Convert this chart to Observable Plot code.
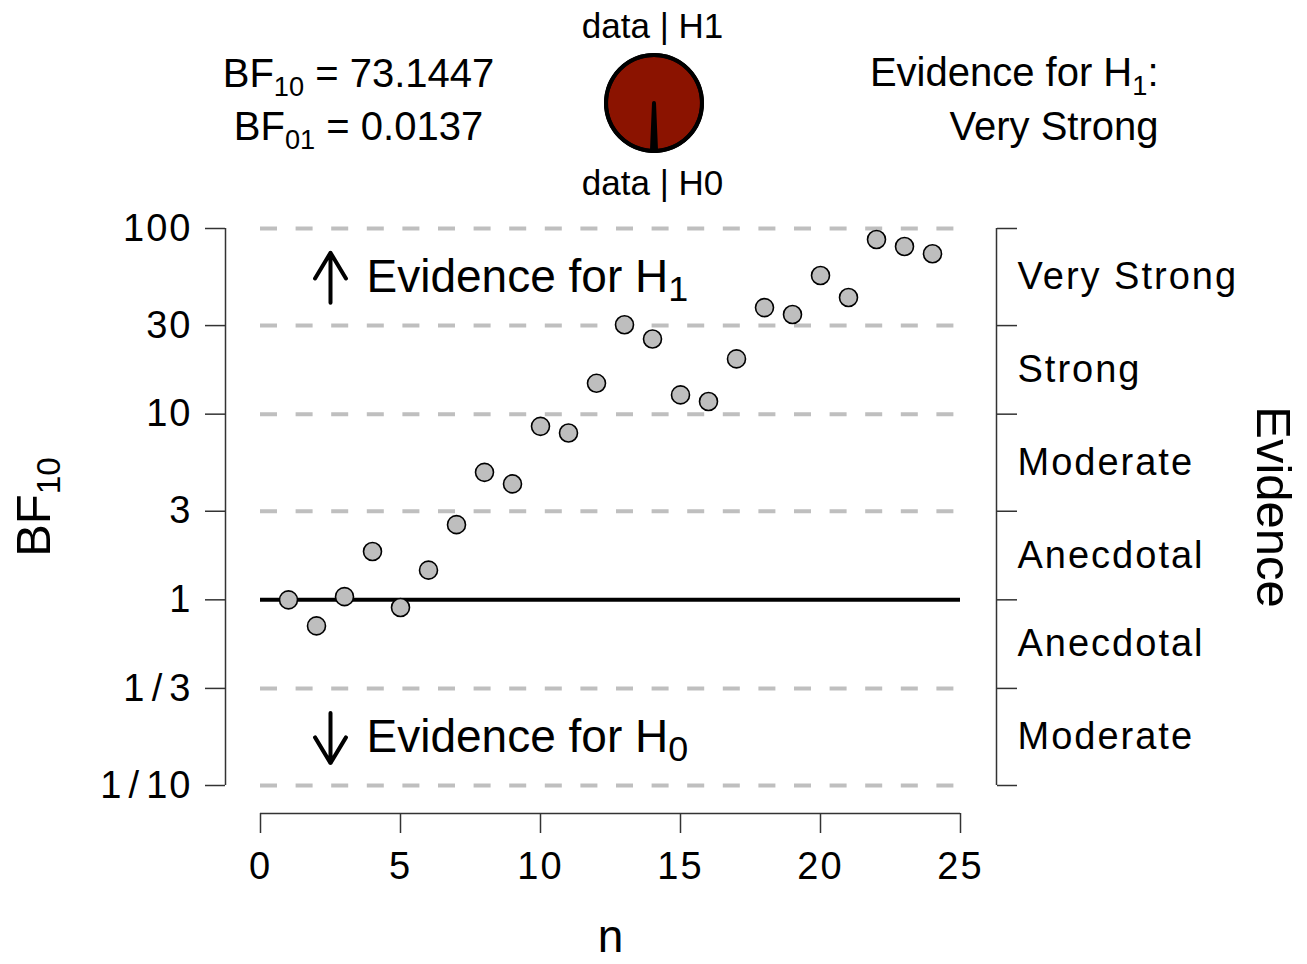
<!DOCTYPE html>
<html><head><meta charset="utf-8">
<script src="https://cdn.jsdelivr.net/npm/d3@7"></script>
<script src="https://cdn.jsdelivr.net/npm/@observablehq/plot@0.6"></script>
<style>
html,body{margin:0;padding:0;background:#fff;}
</style>
</head><body><div id="chart"></div>
<script>
// ---- data ----
const nValues = [1,2,3,4,5,6,7,8,9,10,11,12,13,14,15,16,17,18,19,20,21,22,23,24];
const bfValues = [1.00,0.724,1.04,1.82,0.909,1.445,2.54,4.86,4.21,8.6,7.92,14.66,30.3,25.4,12.7,11.7,19.85,37.5,34.4,55.8,42.5,87.2,80.0,73.1447];
const bf10 = 73.1447;
const bf01 = 0.0137;
const evidenceCategory = "Very Strong";
const yTickValues = [0.1, 1/3, 1, 3, 10, 30, 100];
const yTickLabels = ["1\u200A/\u200A10","1\u200A/\u200A3","1","3","10","30","100"];
const xTickValues = [0,5,10,15,20,25];
const dashedLevels = [100,30,10,3,1/3,1/10];
const bandLow  = [30,10,3,1,1/3,1/10];
const bandHigh = [100,30,10,3,1,1/3];
const bandLabels = ["Very Strong","Strong","Moderate","Anecdotal","Anecdotal","Moderate"];

const points = nValues.map((n,i)=>({n, bf: bfValues[i]}));
const bands = bandLabels.map((label,i)=>({label, mid: Math.sqrt(bandLow[i]*bandHigh[i])}));
// arrow annotations (start is extended and inset so the head can be long)
const arrows = [
  {x: 2.5, y1: 22.8, y2: 74},
  {x: 2.5, y1: 0.43, y2: 0.132}
];
const evidenceNotes = [
  {text: "Evidence for H_{1}", y: Math.sqrt(100*30)},
  {text: "Evidence for H_{0}", y: Math.sqrt(1/3*1/10)}
];

const font = "'Liberation Sans', Arial, Helvetica, sans-serif";
const axisCol = "#333";
const tickFont = 38;
const tickSpacing = 2.0;

const chart = Plot.plot({
  width: 1307, height: 964,
  marginTop: 228, marginBottom: 179, marginLeft: 260, marginRight: 347,
  style: {fontFamily: font, background: "white", color: "black", overflow: "visible"},
  x: {domain: [0,25], axis: null, label: null},
  y: {type: "log", domain: [0.1,100], axis: null, label: null},
  marks: [
    Plot.ruleY(dashedLevels, {x1: 0, x2: 25, stroke: "#BFBFBF", strokeWidth: 4, strokeDasharray: "17,18.6"}),
    Plot.ruleY([1], {x1: 0, x2: 25, stroke: "black", strokeWidth: 4}),
    // left axis
    Plot.ruleX([0], {y1: 0.1, y2: 100, dx: -35, stroke: axisCol, strokeWidth: 1.5}),
    Plot.axisY({ticks: yTickValues, tickFormat: d => yTickLabels[yTickValues.indexOf(d)], tickSize: 20, tickPadding: 13, dx: -35, fontSize: tickFont, stroke: axisCol, strokeWidth: 1.5, label: null}),
    // right axis
    Plot.ruleX([25], {y1: 0.1, y2: 100, dx: 36, stroke: axisCol, strokeWidth: 1.5}),
    Plot.axisY({anchor: "right", ticks: yTickValues, tickFormat: () => "", tickSize: 20, dx: 36, stroke: axisCol, strokeWidth: 1.5, label: null}),
    Plot.text(bands, {x: 25, y: "mid", text: "label", dx: 57, textAnchor: "start", fontSize: tickFont}),
    // bottom axis
    Plot.ruleY([0.1], {x1: 0, x2: 25, dy: 28, stroke: axisCol, strokeWidth: 1.5}),
    Plot.axisX({ticks: xTickValues, tickSize: 20, tickPadding: 19, dy: 28, fontSize: tickFont, stroke: axisCol, strokeWidth: 1.5, label: null}),
    // axis titles
    Plot.text(["BF_{10}"], {text: d => d, frameAnchor: "left", dx: -226, rotate: -90, fontSize: 49, textAnchor: "middle", lineAnchor: "middle"}),
    Plot.text(["Evidence"], {text: d => d, frameAnchor: "right", dx: 312, rotate: 90, fontSize: 49, textAnchor: "middle", lineAnchor: "middle"}),
    Plot.text(["n"], {text: d => d, frameAnchor: "bottom", dy: 152, fontSize: 46, textAnchor: "middle", lineAnchor: "middle"}),
    // evidence arrows & notes
    Plot.arrow(arrows, {x1: "x", x2: "x", y1: "y1", y2: "y2", insetStart: 45, stroke: "black", strokeWidth: 4, headLength: 11.25, headAngle: 62}),
    Plot.text(evidenceNotes, {x: 2.5, y: "y", text: "text", dx: 36, textAnchor: "start", fontSize: 46}),
    // points
    Plot.dot(points, {x: "n", y: "bf", r: 9, fill: "#BEBEBE", stroke: "black", strokeWidth: 1.6}),
    // top annotations
    Plot.text([`BF_{10} = ${bf10}`], {text: d => d, frameAnchor: "top-left", dx: 98, dy: -154, fontSize: 40, textAnchor: "middle", lineAnchor: "middle"}),
    Plot.text([`BF_{01} = ${bf01}`], {text: d => d, frameAnchor: "top-left", dx: 98, dy: -101, fontSize: 40, textAnchor: "middle", lineAnchor: "middle"}),
    Plot.text(["data | H1"], {text: d => d, frameAnchor: "top-left", dx: 392, dy: -202, fontSize: 35, textAnchor: "middle", lineAnchor: "middle"}),
    Plot.text(["data | H0"], {text: d => d, frameAnchor: "top-left", dx: 392, dy: -45, fontSize: 35, textAnchor: "middle", lineAnchor: "middle"}),
    Plot.text(["Evidence for H_{1}:"], {text: d => d, frameAnchor: "top-left", dx: 898, dy: -155, fontSize: 40, textAnchor: "end", lineAnchor: "middle"}),
    Plot.text([evidenceCategory], {text: d => d, frameAnchor: "top-left", dx: 898, dy: -101, fontSize: 40, textAnchor: "end", lineAnchor: "middle"})
  ]
});

document.getElementById("chart").appendChild(chart);

// ---- letter spacing for axis / band labels ----
chart.querySelectorAll("text").forEach(t => {
  if (Math.abs(parseFloat(getComputedStyle(t).fontSize) - tickFont) < 0.5) {
    t.setAttribute("letter-spacing", tickSpacing + "px");
  }
});

// ---- pie (data | H1 vs data | H0) ----
const svgNS = "http://www.w3.org/2000/svg";
const cx = 654, cy = 103, R = 48;
const a = 2*Math.PI/(1+bf10);
const pieArcs = d3.pie().sort(null).startAngle(Math.PI - a/2).endAngle(3*Math.PI - a/2)([1, bf10]);
const arcGen = d3.arc().innerRadius(0).outerRadius(R);
const g = d3.select(chart).append("g").attr("transform", `translate(${cx},${cy})`);
g.selectAll("path").data(pieArcs).join("path")
  .attr("d", arcGen)
  .attr("fill", (d,i) => i === 0 ? "white" : "#8B1300")
  .attr("stroke", "black").attr("stroke-width", 4).attr("stroke-linejoin", "round");
g.append("circle").attr("r", R).attr("fill", "none").attr("stroke", "black").attr("stroke-width", 4);

// ---- subscripts ----
function applySubscripts(root) {
  root.querySelectorAll("text").forEach(t => {
    const targets = t.querySelector("tspan") ? [...t.querySelectorAll("tspan")] : [t];
    targets.forEach(node => {
      const s = node.textContent;
      if (!s.includes("_{")) return;
      const fs = parseFloat(getComputedStyle(node).fontSize);
      const ratio = s.startsWith("Evidence for H") && fs > 44 ? 0.78 : 0.68;
      node.textContent = "";
      const parts = s.split(/(_\{[^}]*\})/).filter(p => p);
      let shifted = false;
      parts.forEach(p => {
        const ts = document.createElementNS(svgNS, "tspan");
        if (p.startsWith("_{")) {
          ts.textContent = p.slice(2, -1);
          ts.setAttribute("font-size", (fs*ratio) + "px");
          ts.setAttribute("dy", (fs*0.21) + "px");
          shifted = true;
        } else {
          ts.textContent = p;
          if (shifted) { ts.setAttribute("dy", (-fs*0.21) + "px"); shifted = false; }
        }
        node.appendChild(ts);
      });
    });
  });
}
applySubscripts(chart);
</script>
</body></html>
